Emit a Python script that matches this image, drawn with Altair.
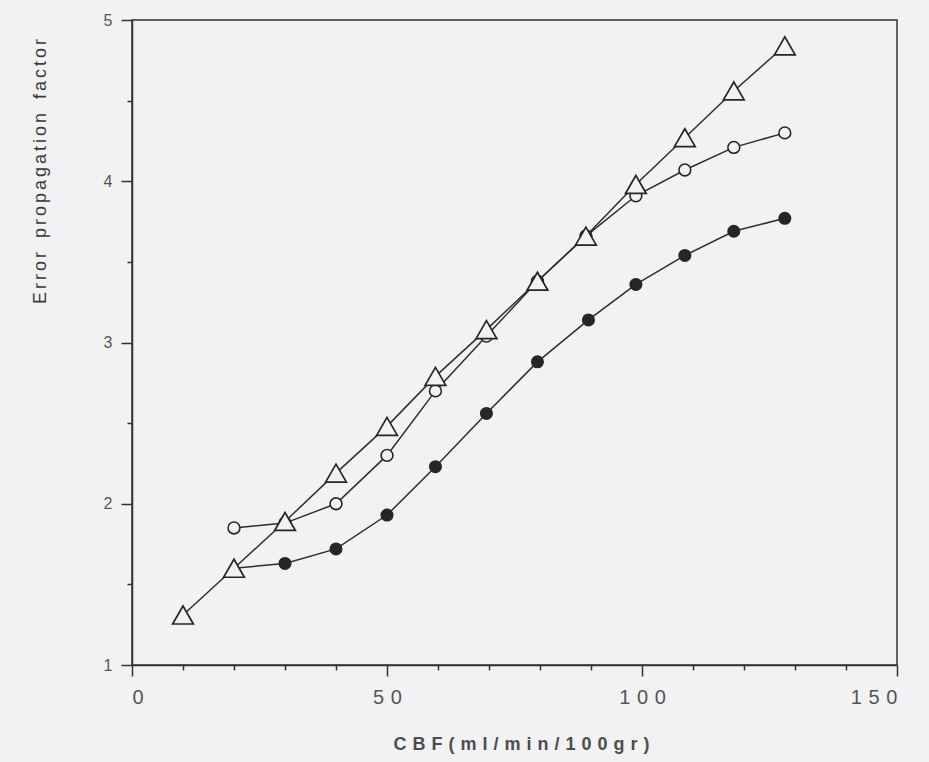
import altair as alt
import pandas as pd

# Error propagation factor versus CBF (ml/min/100gr) for three curves
tri_x = [10, 20, 30, 40, 50, 59.5, 69.5, 79.5, 89, 98.8, 108.4, 118, 128]
tri_y = [1.31, 1.60, 1.89, 2.19, 2.48, 2.79, 3.08, 3.38, 3.66, 3.98, 4.27, 4.56, 4.84]

open_x = [20, 30, 40, 50, 59.5, 69.5, 79.5, 89, 98.8, 108.4, 118, 128]
open_y = [1.85, 1.88, 2.00, 2.30, 2.70, 3.04, 3.38, 3.66, 3.91, 4.07, 4.21, 4.30]

# the filled curve branches off the triangle curve at CBF = 20
dot_x = [20, 30, 40, 50, 59.5, 69.5, 79.5, 89.5, 98.8, 108.4, 118, 128]
dot_y = [1.60, 1.63, 1.72, 1.93, 2.23, 2.56, 2.88, 3.14, 3.36, 3.54, 3.69, 3.77]

x_major = [0, 50, 100, 150]
x_minor = [10, 20, 30, 40, 60, 70, 80, 90, 110, 120, 130, 140]
y_major = [1, 2, 3, 4, 5]
y_minor = [1.5, 2.5, 3.5, 4.5]

BG = "#f2f2f4"
INK = "#262626"
FONT = "Liberation Sans"


def spaced(text, gap="\u2004"):
    """Letter-spaced rendering of a label."""
    return gap.join(text)


tri = pd.DataFrame({"cbf": tri_x, "epf": tri_y})
opn = pd.DataFrame({"cbf": open_x, "epf": open_y})
dot = pd.DataFrame({"cbf": dot_x, "epf": dot_y})

xs = alt.Scale(domain=[0, 150], nice=False, zero=False)
ys = alt.Scale(domain=[1, 5], nice=False, zero=False)

axis_common = dict(grid=False, domainColor="#333", domainWidth=1.5,
                   tickColor="#333", tickWidth=1.5)

x_axis_major = alt.Axis(
    orient="bottom", values=x_major, tickSize=11,
    labelExpr="join(split(datum.label, ''), '\u2004')",
    labelFont=FONT, labelFontSize=20, labelColor="#555", labelPadding=11,
    title=spaced("CBF(ml/min/100gr)"), titleFont=FONT, titleFontSize=18,
    titleFontWeight="bold", titleColor="#4d4d4d", titleX=389, titleY=79,
    titleBaseline="middle", **axis_common)
y_axis_major = alt.Axis(
    orient="left", values=y_major, tickSize=11,
    labelFont=FONT, labelFontSize=16, labelColor="#555", labelPadding=9,
    title=" \u2002".join(spaced(w, "\u2006") for w in "Error propagation factor".split()),
    titleFont=FONT, titleFontSize=18, titleFontWeight="normal",
    titleColor="#3a3a3a", titleAngle=270, titleX=-92, titleY=151,
    titleAlign="center", titleBaseline="middle", **axis_common)

x_axis_minor = alt.Axis(orient="bottom", values=x_minor, tickSize=5, labels=False,
                        domain=False, title=None, grid=False, tickColor="#333",
                        tickWidth=1.5)
y_axis_minor = alt.Axis(orient="left", values=y_minor, tickSize=5, labels=False,
                        domain=False, title=None, grid=False, tickColor="#333",
                        tickWidth=1.5)


def enc(chart, xa=None, ya=None):
    return chart.encode(
        x=alt.X("cbf:Q", scale=xs, axis=xa),
        y=alt.Y("epf:Q", scale=ys, axis=ya),
    )


line_style = dict(color="#2e2e2e", strokeWidth=1.5)

tri_line = enc(alt.Chart(tri).mark_line(**line_style), x_axis_major, y_axis_major)
open_line = enc(alt.Chart(opn).mark_line(**line_style), x_axis_minor, y_axis_minor)
dot_line = enc(alt.Chart(dot).mark_line(**line_style))

dot_pts = enc(alt.Chart(dot.iloc[1:]).mark_circle(size=170, color=INK, opacity=1))
open_pts = enc(alt.Chart(opn).mark_point(
    shape="circle", size=140, filled=True, fill=BG, stroke=INK,
    strokeWidth=1.6, opacity=1))
tri_pts = enc(alt.Chart(tri).mark_point(
    shape="triangle-up", size=430, filled=True, fill=BG, stroke=INK,
    strokeWidth=1.7, opacity=1))

chart = (
    alt.layer(tri_line, open_line, dot_line, dot_pts, open_pts, tri_pts)
    .resolve_axis(x="independent", y="independent")
    .properties(
        width=765, height=645,
        autosize=alt.AutoSizeParams(type="none"),
        padding={"left": 132, "top": 20, "right": 32, "bottom": 97},
        background=BG,
    )
    .configure_view(stroke="#333", strokeWidth=1.5)
)

chart.save("out.html", embed_options={"renderer": "svg", "actions": False})
